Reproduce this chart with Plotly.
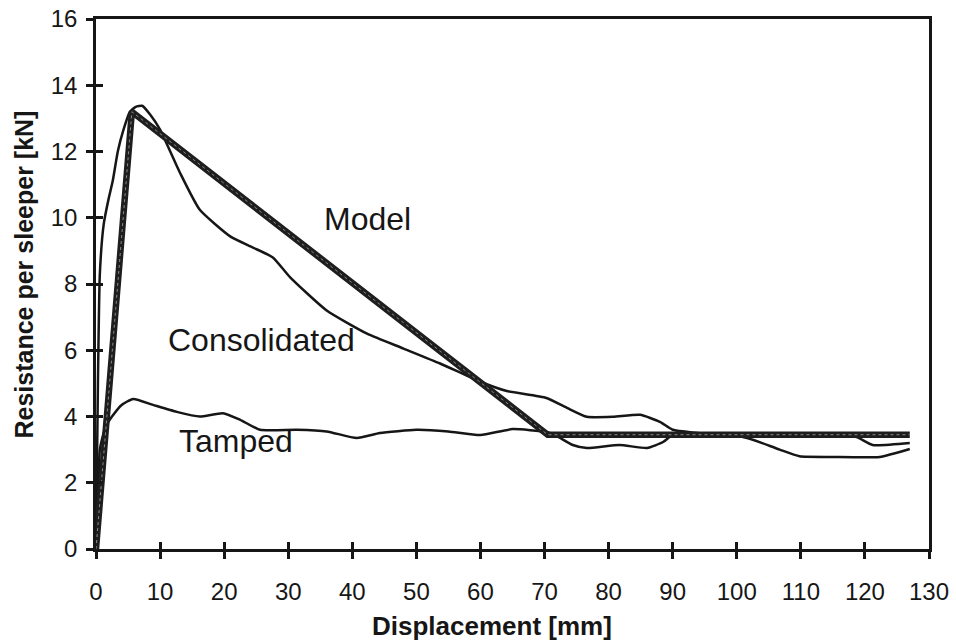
import plotly.graph_objects as go

# Model (bilinear idealisation)
model_x = [0, 5.6, 70.5, 127]
model_y = [0, 13.2, 3.45, 3.45]

# Consolidated ballast
cons_x = [0, 0.3, 0.6, 1.2, 2, 2.6, 3.4, 4.2, 5.3, 6.2, 7.2, 8.5, 10, 13.1, 16.2, 21, 24.5, 27.6, 30.3,
          36, 42.3, 48, 53.7, 60, 64.1, 70.3, 73.5, 76.6, 80.7, 84.9, 88, 90, 95, 100, 102.5, 106.7,
          109.8, 115, 122.3, 127]
cons_y = [0, 5.0, 8.3, 9.8, 10.6, 11.1, 12.0, 12.6, 13.2, 13.35, 13.38, 13.1, 12.66, 11.36, 10.24,
          9.43, 9.1, 8.8, 8.2, 7.2, 6.5, 6.05, 5.6, 5.05, 4.77, 4.56, 4.26, 3.99, 3.99, 4.05, 3.84,
          3.6, 3.48, 3.42, 3.3, 3.0, 2.8, 2.78, 2.78, 3.02]

# Tamped ballast
tamp_x = [0, 0.3, 0.6, 1.5, 2.5, 4, 5.8, 8.9, 12.6, 16.2, 19.8, 22.5, 25.6, 31.3, 36, 40.7, 44.3, 50,
          55, 60, 65, 70.3, 71.9, 74.4, 76.6, 81.7, 86, 88.5, 90, 95, 105, 115, 118.7, 121.2, 127]
tamp_y = [0, 1.5, 3.0, 3.7, 4.0, 4.35, 4.53, 4.35, 4.14, 4.0, 4.1, 3.9, 3.6, 3.6, 3.55, 3.35, 3.5, 3.6,
          3.55, 3.44, 3.62, 3.53, 3.41, 3.14, 3.05, 3.14, 3.05, 3.23, 3.44, 3.48, 3.45, 3.45, 3.38,
          3.14, 3.2]

x_ticks = list(range(0, 131, 10))
y_ticks = list(range(0, 17, 2))

labels = [("Model", 42.3, 9.95), ("Consolidated", 25.9, 6.3), ("Tamped", 21.8, 3.25)]

FONT = "Liberation Sans, Arial, sans-serif"
INK = "#161616"

fig = go.Figure()
fig.add_trace(go.Scatter(x=cons_x, y=cons_y, mode="lines",
                         line=dict(color=INK, width=2.5, shape="spline", smoothing=0.5),
                         showlegend=False, hoverinfo="skip"))
fig.add_trace(go.Scatter(x=tamp_x, y=tamp_y, mode="lines",
                         line=dict(color=INK, width=2.5, shape="spline", smoothing=0.5),
                         showlegend=False, hoverinfo="skip"))
fig.add_trace(go.Scatter(x=model_x, y=model_y, mode="lines", line=dict(color="#1e1e1e", width=6.5),
                         showlegend=False, hoverinfo="skip"))
fig.add_trace(go.Scatter(x=model_x, y=model_y, mode="lines", line=dict(color="#8a8a8a", width=1, dash="dot"),
                         showlegend=False, hoverinfo="skip"))

for txt, lx, ly in labels:
    fig.add_annotation(x=lx, y=ly, text=txt, showarrow=False,
                       font=dict(family=FONT, size=32, color=INK))

# axis titles
fig.add_annotation(xref="paper", yref="paper", x=0.475, y=-0.145, text="<b>Displacement [mm]</b>",
                   showarrow=False, xanchor="center", yanchor="middle",
                   font=dict(family=FONT, size=26, color=INK))
fig.add_annotation(xref="paper", yref="paper", x=-0.087, y=0.517, text="<b>Resistance per sleeper [kN]</b>",
                   showarrow=False, xanchor="center", yanchor="middle", textangle=-90,
                   font=dict(family=FONT, size=25, color=INK))

axis_font = dict(family=FONT, size=24, color=INK)

fig.update_layout(
    width=956, height=644,
    margin=dict(l=96, r=27, t=19, b=95),
    plot_bgcolor="white", paper_bgcolor="white",
    xaxis=dict(range=[0, 130], tickvals=x_ticks, ticktext=[str(v) for v in x_ticks],
               showgrid=False, zeroline=False, showline=True, linecolor=INK, linewidth=2.5,
               mirror=True, ticks="outside", ticklen=7, tickwidth=2.5, tickcolor=INK,
               tickfont=axis_font, ticklabelstandoff=12, automargin=False),
    yaxis=dict(range=[0, 16], tickvals=y_ticks, ticktext=[str(v) for v in y_ticks],
               showgrid=False, zeroline=False, showline=True, linecolor=INK, linewidth=2.5,
               mirror=True, ticks="outside", ticklen=7, tickwidth=2.5, tickcolor=INK,
               tickfont=axis_font, ticklabelstandoff=4, automargin=False),
    xaxis2=dict(range=[0, 130], tickvals=x_ticks, overlaying="x", side="bottom", anchor="y",
                showticklabels=False, showgrid=False, zeroline=False, ticks="inside", ticklen=7,
                tickwidth=2.5, tickcolor=INK, automargin=False),
    yaxis2=dict(range=[0, 16], tickvals=y_ticks, overlaying="y", side="left", anchor="x",
                showticklabels=False, showgrid=False, zeroline=False, ticks="inside", ticklen=7,
                tickwidth=2.5, tickcolor=INK, automargin=False),
)
# invisible trace that activates the secondary axes carrying the inner tick halves
fig.add_trace(go.Scatter(x=[None], y=[None], xaxis="x2", yaxis="y2", showlegend=False, hoverinfo="skip"))

fig.write_html("out.html")
